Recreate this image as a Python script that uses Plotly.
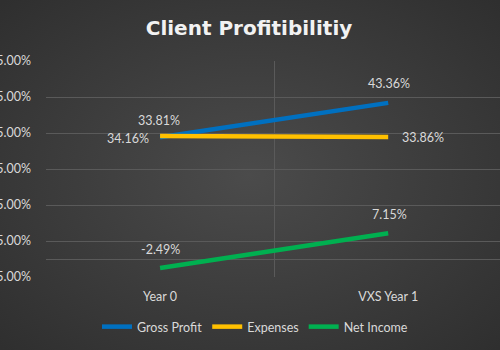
import base64
import plotly.graph_objects as go

categories = ["Year 0", "VXS Year 1"]
gross_profit = [33.81, 43.36]
expenses = [34.16, 33.86]
net_income = [-2.49, 7.15]
series_names = ["Gross Profit", "Expenses", "Net Income"]
y_ticks = [-5, 5, 15, 25, 35, 45, 55]
y_tick_text = [f"{v:.2f}%" for v in y_ticks]

colors = ["#0070C0", "#FFC000", "#00B050"]
# label placement per series/point: (xanchor, xshift, yshift)
label_pos = [
    [("center", -1, 17), ("center", 1, 19)],
    [("right", -9, -2), ("left", 12, 0)],
    [("center", 0, 18), ("center", 1, 19)],
]

FONT = "Lato, Carlito, 'Open Sans', sans-serif"
TXT = "#d9d9d9"
GRID = "#5a5a5a"

L, R, T, B = 46, 0, 61, 73
W, H = 500, 350
pw, ph = W - L - R, H - T - B

svg = (
    '<svg xmlns="http://www.w3.org/2000/svg" width="500" height="350">'
    '<defs><radialGradient id="g" cx="50%" cy="50%" r="70%">'
    '<stop offset="0" stop-color="#4b4b4b"/><stop offset="1" stop-color="#2f2f2f"/>'
    '</radialGradient></defs><rect width="500" height="350" fill="url(#g)"/></svg>'
)
bg_src = "data:image/svg+xml;base64," + base64.b64encode(svg.encode()).decode()

fig = go.Figure()
all_series = [gross_profit, expenses, net_income]
for name, vals, col, rank in zip(series_names, all_series, colors, [1, 2, 3]):
    fig.add_trace(go.Scatter(
        x=categories, y=vals, name=name, mode="lines", legendrank=rank,
        line=dict(color=col, width=4.5), hoverinfo="skip",
    ))

# draw expenses over gross profit like reference
fig.data = (fig.data[0], fig.data[2], fig.data[1])

annotations = []
for vals, poss in zip(all_series, label_pos):
    for cat, v, (xa, xs, ys) in zip(categories, vals, poss):
        annotations.append(dict(
            x=cat, y=v, xref="x", yref="y", text=f"{v:.2f}%", showarrow=False,
            xanchor=xa, yanchor="middle", xshift=xs, yshift=ys,
            font=dict(family=FONT, size=12.5, color=TXT),
        ))

fig.update_layout(
    width=W, height=H,
    margin=dict(l=L, r=R, t=T, b=B),
    paper_bgcolor="#3e3e3e",
    plot_bgcolor="rgba(0,0,0,0)",
    images=[dict(source=bg_src, xref="paper", yref="paper",
                 x=-L / pw, y=1 + T / ph, sizex=W / pw, sizey=H / ph,
                 sizing="stretch", layer="below",
                 xanchor="left", yanchor="top")],
    title=dict(text="<b>Client Profitibilitiy</b>", x=0.498, xref="container",
               y=1 - 28 / 350, yref="container", xanchor="center", yanchor="middle",
               font=dict(family="'DejaVu Sans', sans-serif", size=20, color="#f2f2f2")),
    showlegend=True,
    legend=dict(orientation="h", xref="container", yref="container",
                x=0.51, y=1 - 327 / 350, xanchor="center", yanchor="middle",
                font=dict(family=FONT, size=12.5, color=TXT),
                bgcolor="rgba(0,0,0,0)", itemwidth=30, tracegroupgap=0,
                traceorder="normal"),
    annotations=annotations,
    xaxis=dict(type="category", range=[-0.5, 1.49], showgrid=True, gridcolor=GRID,
               gridwidth=1, tickson="boundaries", ticks="", showline=False,
               zeroline=False, ticklabelstandoff=10,
               tickfont=dict(family=FONT, size=12.5, color=TXT)),
    yaxis=dict(range=[-5, 55], tickvals=y_ticks, ticktext=y_tick_text,
               showgrid=True, gridcolor=GRID, gridwidth=1, zeroline=True,
               zerolinecolor=GRID, zerolinewidth=1, showline=False, ticks="",
               automargin=False, ticklabelstandoff=14,
               tickfont=dict(family=FONT, size=12.5, color=TXT)),
)

fig.write_html("out.html")
